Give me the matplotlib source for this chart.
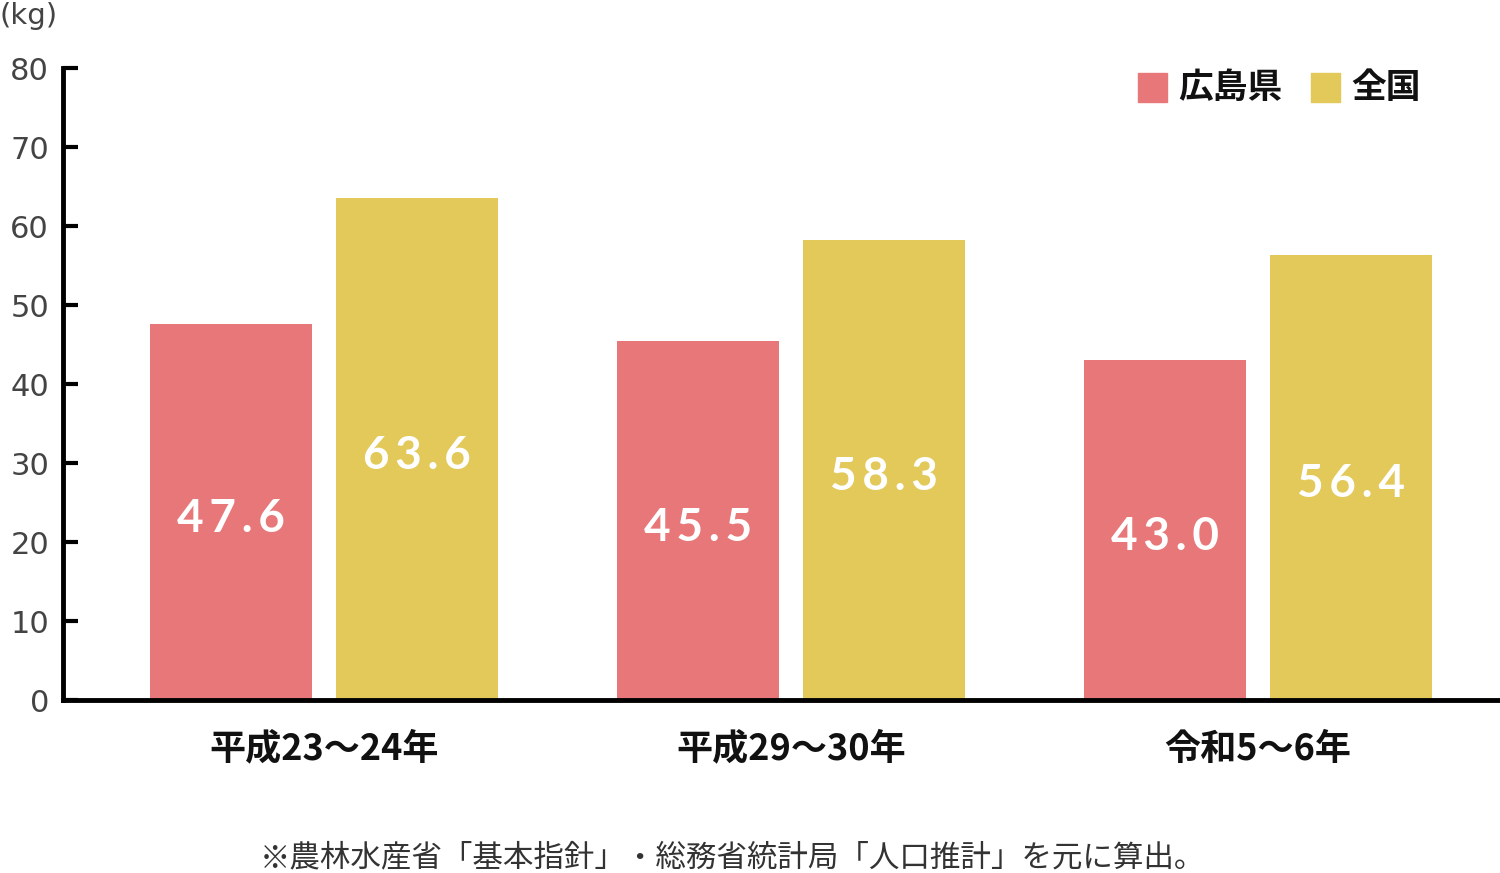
import matplotlib

matplotlib.use("Agg")

import matplotlib.pyplot as plt
from matplotlib.patches import Rectangle
import numpy as np

plt.rcParams["font.family"] = ["Noto Sans CJK JP", "DejaVu Sans"]

categories = ["平成23〜24年", "平成29〜30年", "令和5〜6年"]
hiroshima = [47.6, 45.5, 43.0]
national = [63.6, 58.3, 56.4]
series_names = ["広島県", "全国"]
y_ticks = [0, 10, 20, 30, 40, 50, 60, 70, 80]
note = "※農林水産省「基本指針」・総務省統計局「人口推計」を元に算出。"

PINK = "#E8777A"
YELLOW = "#E2C95A"

fig = plt.figure(figsize=(15, 8.73), dpi=100)
ax = fig.add_axes([0.042, 0.198, 0.958, 0.724])

x = np.arange(len(categories))
width = 0.347
offset = 0.199

ax.bar(x - offset, hiroshima, width=width, color=PINK, zorder=2)
ax.bar(x + offset, national, width=width, color=YELLOW, zorder=2)


def spaced(v):
    return "\u2009".join(f"{v:.1f}")


for pos, vals in [(x - offset, hiroshima), (x + offset, national)]:
    for xi, v in zip(pos, vals):
        ax.text(xi, v / 2 - 0.9, spaced(v), color="white", fontsize=33,
                fontweight="bold", ha="center", va="center",
                family=["Lato", "DejaVu Sans"])

ax.set_xlim(-0.559, 2.518)
ax.set_ylim(0, 80)
ax.set_yticks(y_ticks)
ax.set_yticklabels([str(t) for t in y_ticks], fontsize=22, color="#444444",
                   family=["DejaVu Sans"])
ax.tick_params(axis="y", direction="in", length=11, width=3, pad=10)
ax.set_xticks(x)
ax.set_xticklabels(categories, fontsize=26, fontweight="bold", color="#111111")
ax.tick_params(axis="x", length=0, pad=22)

for side in ["top", "right"]:
    ax.spines[side].set_visible(False)
ax.spines["left"].set_linewidth(3.5)
ax.spines["bottom"].set_linewidth(3.5)

fig.text(0.0, 0.982, "(kg)", fontsize=21, color="#444444", ha="left", va="center",
         family=["DejaVu Sans"])

# legend
for sx, color, name in [(0.7587, PINK, series_names[0]), (0.874, YELLOW, series_names[1])]:
    fig.patches.append(Rectangle((sx, 0.883), 0.0193, 0.033, transform=fig.transFigure,
                                 color=color))
    fig.text(sx + 0.027, 0.8995, name, fontsize=25, fontweight="bold",
             color="#111111", ha="left", va="center")

fig.text(0.488, 0.017, note, fontsize=22, color="#333333", ha="center", va="center")

fig.savefig("out.png", dpi=100)
